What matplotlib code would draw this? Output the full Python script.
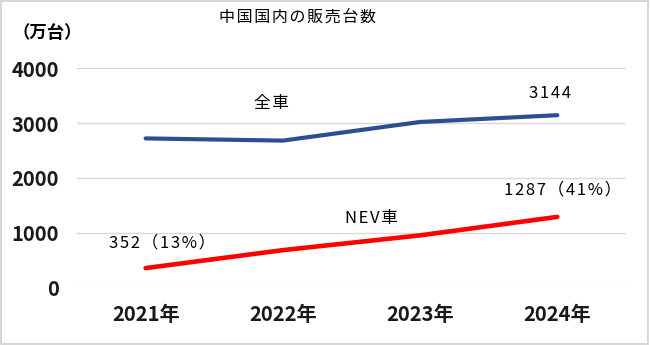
import matplotlib
matplotlib.use("Agg")
import matplotlib.pyplot as plt
from matplotlib.patches import Rectangle

plt.rcParams['font.family'] = ['Noto Sans CJK JP', 'DejaVu Sans']

years = ['2021年', '2022年', '2023年', '2024年']
total_sales = [2720, 2680, 3020, 3144]
nev_sales = [352, 680, 950, 1287]
yticks = [0, 1000, 2000, 3000, 4000]


def spaced(s):
    # a little tracking between characters
    return '\u200a'.join(s)


fig = plt.figure(figsize=(6.5, 3.45), dpi=100)
ax = fig.add_axes([0.1185, 0.167, 0.8445, 0.635])

x = list(range(len(years)))
ax.plot(x, total_sales, color='#2B4F93', lw=3.0, solid_capstyle='round', zorder=3)
ax.plot(x, nev_sales, color='#FF0000', lw=3.3, solid_capstyle='round', zorder=3)

ax.set_xlim(-0.5, len(years) - 0.5)
ax.set_ylim(0, 4000)
ax.set_xticks(x)
ax.set_xticklabels(years, fontweight='bold')
ax.set_yticks(yticks)
ax.set_yticklabels([str(v) for v in yticks], fontweight='bold')
ax.tick_params(axis='both', length=0, labelsize=14.5, labelcolor='#1A1A1A')
ax.tick_params(axis='y', pad=13)
ax.tick_params(axis='x', pad=12)
ax.grid(axis='y', color='#D9D9D9', lw=1)
ax.set_axisbelow(True)
for s in ax.spines.values():
    s.set_visible(False)

# series / value labels
lab = dict(ha='center', va='center', fontsize=12)
ax.text(0.92, 3366, spaced('全車'), **lab)
ax.text(2.95, 3549, spaced(f'{total_sales[-1]}'), **lab)
ax.text(1.645, 1266, spaced('NEV車'), **lab)
ax.text(3.04, 1777, spaced(f'{nev_sales[-1]}（41%）'), **lab)
ax.text(0.12, 809, spaced(f'{nev_sales[0]}（13%）'), **lab)

fig.text(0.458, 0.948, spaced('中国国内の販売台数'), ha='center', va='center', fontsize=11.5)
fig.text(0.072, 0.904, '（万台）', ha='center', va='center', fontsize=12.5, fontweight='bold')

fig.patches.append(Rectangle((0.002, 0.003), 0.995, 0.993, transform=fig.transFigure,
                             fill=False, edgecolor='#D0D0D0', lw=1.2))

fig.savefig('out.png', dpi=100)
